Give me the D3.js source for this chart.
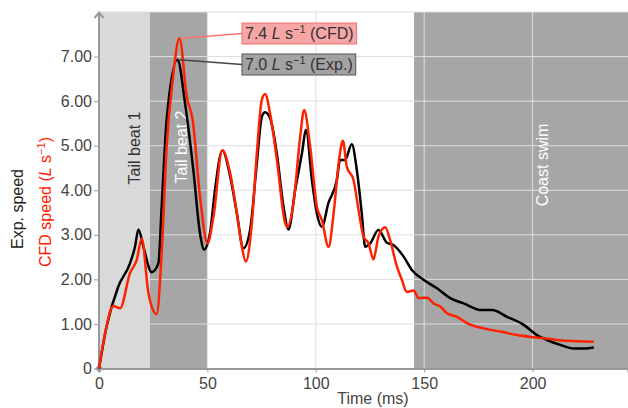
<!DOCTYPE html>
<html>
<head>
<meta charset="utf-8">
<script src="https://cdn.jsdelivr.net/npm/d3@7"></script>
<style>
    body { margin: 0; background: #fff; }
    text { font-family: 'Liberation Sans', Arial, sans-serif; }
</style>
</head>
<body>
<div id="chart"></div>
<script>
// experimental (black) and CFD (red) swimming speed, in body lengths per second
const expTime = [0, 3.5, 8.9, 14.3, 16.6, 18.2, 20.5, 24.3, 27.4, 28.9, 31.2, 36.2, 39.7, 43.5, 46.6, 48.5,
    51.2, 53.5, 56.9, 60.5, 63.6, 66.6, 69.7, 72.8, 75.1, 76.6, 78.9, 82, 85.1, 87.4, 90.5, 93.6, 95.5,
    98.2, 100.5, 102.8, 105.8, 109.7, 111.2, 113.5, 116.6, 118.9, 121.2, 122.8, 125.1, 128.9, 132.8,
    135.8, 140.5, 144.3, 149.7, 155.9, 162, 168.2, 176.6, 181.3, 188.2, 195.9, 202, 206.6, 212.8,
    218.9, 224, 228.2];
const expSpeed = [0, 0.94, 1.84, 2.36, 2.73, 3.12, 2.73, 2.16, 2.36, 3.63, 5.58, 6.93, 5.95, 4.46, 3.03, 2.67,
    3.04, 4.01, 4.89, 4.31, 3.48, 2.70, 3.11, 4.61, 5.65, 5.75, 5.62, 4.83, 3.63, 3.12, 4.01, 4.83, 5.35,
    4.23, 3.48, 3.18, 3.71, 4.23, 4.68, 4.68, 5.03, 4.46, 3.48, 2.73, 2.81, 3.11, 2.82,
    2.77, 2.51, 2.21, 1.99, 1.80, 1.58, 1.46, 1.31, 1.31, 1.16, 0.98, 0.75, 0.64, 0.53,
    0.45, 0.45, 0.47];

const cfdTime = [0, 2.8, 6.6, 9.7, 14.3, 17.4, 19.7, 22.8, 26.6, 28.9, 31.2, 34.0, 37.1, 40.5, 43.2, 46.6,
    50, 52.8, 56.9, 60.5, 63.6, 65.9, 67.7, 70.5, 72.8, 75.1, 76.6, 78.9, 82, 85.9, 86.9, 89.7, 92.8,
    94.6, 97.4, 100.5, 102.8, 105.9, 108.2, 110.9, 112.5, 114.3, 117.4, 119.7, 122, 124.3, 126.6,
    128.9, 132, 134.3, 137.4, 139.7, 142, 145.1, 147.4, 151.3, 154.3, 157.4, 160.5, 165.1, 169.7,
    177.4, 185.1, 192.8, 200.5, 208.2, 215.9, 228.2];
const cfdSpeed = [0, 0.79, 1.40, 1.35, 2.14, 2.44, 2.92, 1.69, 1.22, 2.59, 4.98, 6.48, 7.41, 6.10, 5.58, 3.86,
    2.81, 3.41, 4.90, 4.38, 3.48, 2.73, 2.40, 3.26, 4.83, 6.03, 6.16, 5.73, 4.70, 3.26, 3.18, 3.71, 5.20,
    5.80, 4.98, 3.63, 3.33, 2.73, 3.48, 4.75, 5.11, 4.53, 4.23, 3.56, 2.96, 2.81, 2.45,
    2.96, 3.17, 2.88, 2.29, 1.99, 1.72, 1.75, 1.58, 1.59, 1.46, 1.39, 1.24, 1.16, 1.02,
    0.90, 0.83, 0.75, 0.70, 0.66, 0.62, 0.60];

// swimming phases (ms)
const phaseStart = [0, 23.5, 145.3];
const phaseEnd = [23.5, 49.8, 244];
const phaseLabels = ['Tail beat 1', 'Tail beat 2', 'Coast swim'];

// peak speed call-outs
const peakValues = ['7.4', '7.0'];
const peakSources = ['(CFD)', '(Exp.)'];

const xTicks = [0, 50, 100, 150, 200];
const yTicks = [0, 1, 2, 3, 4, 5, 6, 7];

const MARGIN = { top: 12, right: 0, bottom: 39.5, left: 99 };
const WIDTH = 628 - MARGIN.left - MARGIN.right;
const HEIGHT = 408 - MARGIN.top - MARGIN.bottom;

const svg = d3.select('#chart')
    .append('svg')
        .attr('width', 628)
        .attr('height', 408)
    .append('g')
        .attr('transform', 'translate(' + MARGIN.left + ',' + MARGIN.top + ')');

const x = d3.scaleLinear().domain([0, 244]).range([0, WIDTH]);
const y = d3.scaleLinear().domain([0, 8]).range([HEIGHT, 0]);

// phase backgrounds
const phaseFill = ['#d9d9d9', '#a6a6a6', '#a6a6a6'];
svg.selectAll('rect.phase')
    .data(phaseStart)
    .join('rect')
        .attr('class', 'phase')
        .attr('x', (d) => x(d))
        .attr('y', 0)
        .attr('width', (d, i) => x(phaseEnd[i]) - x(d))
        .attr('height', HEIGHT)
        .attr('fill', (d, i) => phaseFill[i]);

// grid
svg.append('g')
    .selectAll('line')
    .data(xTicks)
    .join('line')
        .attr('x1', (d) => x(d)).attr('x2', (d) => x(d))
        .attr('y1', 0).attr('y2', HEIGHT)
        .attr('stroke', '#dedede')
        .attr('stroke-width', 1);

svg.append('g')
    .selectAll('line')
    .data(yTicks.concat([8]))
    .join('line')
        .attr('x1', 0).attr('x2', WIDTH)
        .attr('y1', (d) => y(d)).attr('y2', (d) => y(d))
        .attr('stroke', '#dedede')
        .attr('stroke-width', 1);

// phase labels, rotated
const labelTime = [15.7, 37.4, 204];
const labelMid = [148, 147, 165];
const labelColor = ['#333', '#fff', '#fff'];
svg.selectAll('text.phase')
    .data(phaseLabels)
    .join('text')
        .attr('class', 'phase')
        .attr('transform', (d, i) => 'translate(' + (x(labelTime[i]) + 7) + ',' + (labelMid[i] - MARGIN.top) + ') rotate(-90)')
        .attr('text-anchor', 'middle')
        .attr('font-size', 16)
        .attr('fill', (d, i) => labelColor[i])
        .text((d) => d);

// axes
const xAxis = d3.axisBottom(x)
    .tickValues(xTicks)
    .tickSize(4)
    .tickPadding(5)
    .tickFormat(d3.format('d'));

const gx = svg.append('g')
    .attr('transform', 'translate(0,' + HEIGHT + ')')
    .call(xAxis);
gx.select('.domain').attr('stroke', '#999').attr('stroke-width', 2);
gx.selectAll('.tick line').attr('stroke', '#999');
gx.selectAll('.tick text').attr('font-size', 16).attr('fill', '#444')
    .attr('font-family', "'Liberation Sans', Arial, sans-serif");

gx.append('text')
    .text('Time (ms)')
    .attr('text-anchor', 'middle')
    .attr('fill', '#444')
    .attr('font-size', 16)
    .attr('x', 373 - MARGIN.left)
    .attr('y', 35);

const yAxis = d3.axisLeft(y)
    .tickValues(yTicks)
    .tickSize(5)
    .tickPadding(2)
    .tickFormat((d) => d === 0 ? '0' : d3.format('.2f')(d));

const gy = svg.append('g').call(yAxis);
gy.select('.domain').remove();
gy.selectAll('.tick line').attr('stroke', '#999');
gy.selectAll('.tick text').attr('font-size', 16).attr('fill', '#444')
    .attr('font-family', "'Liberation Sans', Arial, sans-serif");

svg.append('line')
    .attr('x1', 0).attr('x2', 0)
    .attr('y1', HEIGHT).attr('y2', 0)
    .attr('stroke', '#999')
    .attr('stroke-width', 2);
svg.append('path')
    .attr('d', 'M-4.5,6 L0,0.5 L4.5,6')
    .attr('fill', 'none')
    .attr('stroke', '#999')
    .attr('stroke-width', 2);
svg.append('path')
    .attr('d', 'M0,' + (HEIGHT - 4) + ' L4,' + HEIGHT + ' L0,' + (HEIGHT + 4) + ' L-4,' + HEIGHT + ' Z')
    .attr('fill', '#999');

// y axis titles
svg.append('text')
    .attr('transform', 'translate(' + (23 - MARGIN.left) + ',' + (209 - MARGIN.top) + ') rotate(-90)')
    .attr('text-anchor', 'middle')
    .attr('font-size', 16)
    .attr('fill', '#222')
    .text('Exp. speed');

const cfdTitle = svg.append('text')
    .attr('transform', 'translate(' + (51 - MARGIN.left) + ',' + (202 - MARGIN.top) + ') rotate(-90)')
    .attr('text-anchor', 'middle')
    .attr('font-size', 16)
    .attr('fill', '#ff1a00');
cfdTitle.append('tspan').text('CFD speed (');
cfdTitle.append('tspan').attr('font-style', 'italic').text('L');
cfdTitle.append('tspan').text(' s');
cfdTitle.append('tspan').attr('font-size', 11).attr('dy', -6).text('\u22121');
cfdTitle.append('tspan').attr('dy', 6).text(')');

// lines
const expData = expTime.map((t, i) => ({ t: t, v: expSpeed[i] }));
const cfdData = cfdTime.map((t, i) => ({ t: t, v: cfdSpeed[i] }));

const line = d3.line()
    .x((d) => x(d.t))
    .y((d) => y(d.v))
    .curve(d3.curveMonotoneX);

svg.append('path')
    .datum(expData)
    .attr('fill', 'none')
    .attr('stroke', '#000')
    .attr('stroke-width', 2.5)
    .attr('stroke-linejoin', 'round')
    .attr('d', line);

svg.append('path')
    .datum(cfdData)
    .attr('fill', 'none')
    .attr('stroke', '#ff2200')
    .attr('stroke-width', 2.5)
    .attr('stroke-linejoin', 'round')
    .attr('d', line);

// peak annotations
function annotate(data, boxTop, value, label, fill, stroke, leader) {
    const peak = data.reduce((a, b) => (b.v > a.v ? b : a));
    const left = 242 - MARGIN.left;
    const g = svg.append('g');
    const rect = g.append('rect');
    const txt = g.append('text')
        .attr('x', left + 3)
        .attr('y', boxTop + 16)
        .attr('font-size', 16)
        .attr('fill', '#333');
    txt.append('tspan').text(value + ' ');
    txt.append('tspan').attr('font-style', 'italic').text('L');
    txt.append('tspan').text(' s');
    txt.append('tspan').attr('font-size', 11).attr('dy', -6).text('\u22121');
    txt.append('tspan').attr('dy', 6).text(' ' + label);
    const box = txt.node().getBBox();
    rect.attr('x', left)
        .attr('y', boxTop)
        .attr('width', box.width + 6)
        .attr('height', 21)
        .attr('fill', fill)
        .attr('stroke', stroke)
        .attr('stroke-width', 1);
    g.insert('line', ':first-child')
        .attr('x1', x(peak.t) + 2)
        .attr('y1', y(peak.v))
        .attr('x2', left)
        .attr('y2', boxTop + 10.5)
        .attr('stroke', leader)
        .attr('stroke-width', 1.5);
}

annotate(cfdData, 23 - MARGIN.top, peakValues[0], peakSources[0], '#f7a6a6', '#f07070', '#ff7070');
annotate(expData, 54 - MARGIN.top, peakValues[1], peakSources[1], '#a3a3a3', '#555', '#444');
</script>
</body>
</html>
